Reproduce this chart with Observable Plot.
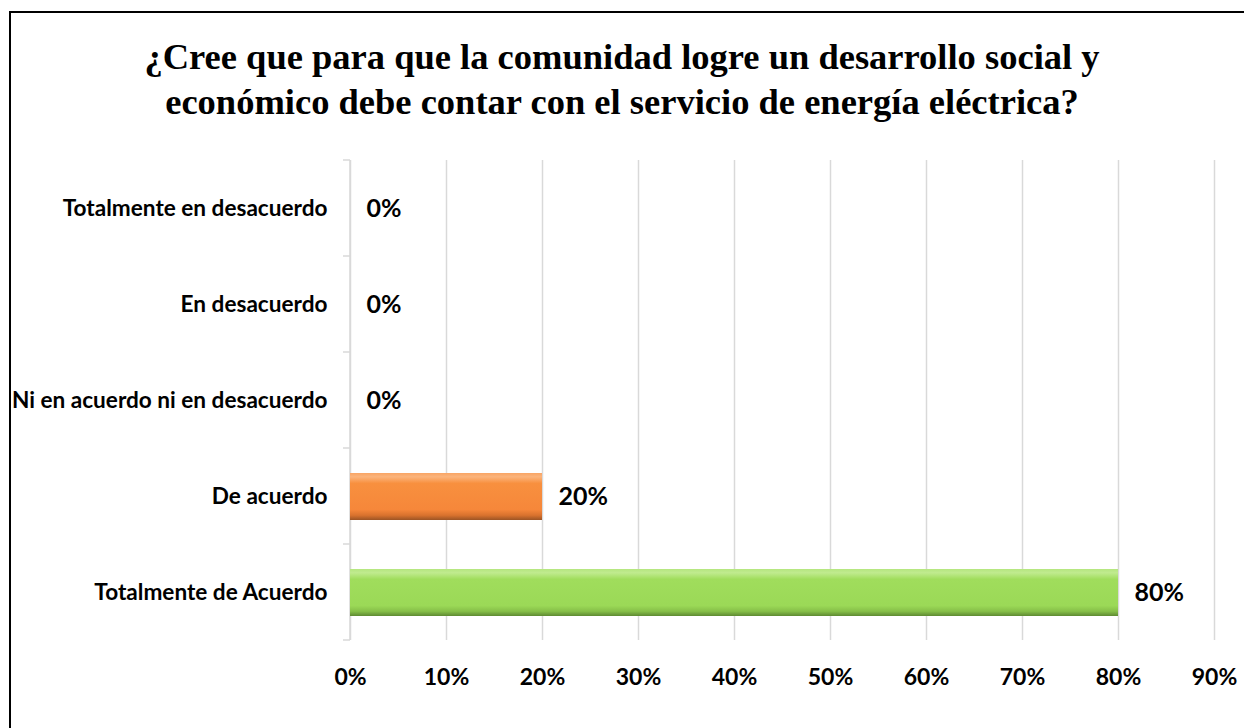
<!DOCTYPE html>
<html>
<head>
<meta charset="utf-8">
<script src="https://cdn.jsdelivr.net/npm/d3@7"></script>
<script src="https://cdn.jsdelivr.net/npm/@observablehq/plot@0.6"></script>
<style>
  html, body { margin: 0; padding: 0; background: #fff; }
  body { width: 1244px; height: 728px; position: relative; overflow: hidden; }
  .edge { position: absolute; background: #000; }
  #edgeTop { left: 9px; top: 11px; width: 1235px; height: 2px; }
  #edgeLeft { left: 9px; top: 11px; width: 2px; height: 717px; }
  #title { position: absolute; top: 34px; left: 0; width: 1244px; text-align: center; font-family: "Liberation Serif", "Times New Roman", serif; font-weight: bold; font-size: 36.5px; line-height: 45px; color: #000; z-index: 2; }
  #chart { position: absolute; left: 0; top: 0; z-index: 1; }
</style>
</head>
<body>
<div class="edge" id="edgeTop"></div>
<div class="edge" id="edgeLeft"></div>
<div id="title">¿Cree que para que la comunidad logre un desarrollo social y<br>económico debe contar con el servicio de energía eléctrica?</div>
<div id="chart"></div>
<script>
const categories = ["Totalmente en desacuerdo", "En desacuerdo", "Ni en acuerdo ni en desacuerdo", "De acuerdo", "Totalmente de Acuerdo"];
const values = [0, 0, 0, 0.20, 0.80];
const fills = ["url(#gOrange)", "url(#gOrange)", "url(#gOrange)", "url(#gOrange)", "url(#gGreen)"];
const xTicks = [0, 0.1, 0.2, 0.3, 0.4, 0.5, 0.6, 0.7, 0.8, 0.9];

const data = categories.map((c, i) => ({category: c, value: values[i], fill: fills[i]}));
const pct = d => Math.round(d * 100) + "%";

function defsMark() {
  const g = d3.create("svg:g");
  const defs = g.append("defs");
  const mk = (id, stops) => {
    const lg = defs.append("linearGradient").attr("id", id).attr("x1", 0).attr("y1", 0).attr("x2", 0).attr("y2", 1);
    stops.forEach(([o, c]) => lg.append("stop").attr("offset", o).attr("stop-color", c));
  };
  mk("gOrange", [[0, "#f9a565"], [0.08, "#fbb47c"], [0.22, "#f8903f"], [0.78, "#f6873a"], [0.9, "#d9722e"], [1, "#9c5424"]]);
  mk("gGreen", [[0, "#b5e67f"], [0.08, "#c0eb8f"], [0.22, "#a0dd5c"], [0.78, "#9bd957"], [0.9, "#86bf48"], [1, "#5e8a32"]]);
  return g.node();
}

function yAxisLine(index, scales, values, dims) {
  const y = scales.y;
  const top = dims.marginTop, bottom = dims.height - dims.marginBottom;
  const bw = (y.bandwidth ? y.bandwidth() : (bottom - top) / categories.length);
  const x0 = scales.x(0);
  const g = d3.create("svg:g").attr("stroke", "#d9d9d9").attr("stroke-width", 1.5).attr("fill", "none");
  g.append("line").attr("x1", x0).attr("x2", x0).attr("y1", top).attr("y2", bottom);
  const bounds = categories.map(c => y(c)).concat([y(categories[categories.length - 1]) + bw]);
  bounds.forEach(b => g.append("line").attr("x1", x0 - 7).attr("x2", x0).attr("y1", b).attr("y2", b));
  return g.node();
}

const plot = Plot.plot({
  width: 1244,
  height: 728,
  marginTop: 160,
  marginBottom: 88,
  marginLeft: 350,
  marginRight: 30,
  style: {background: "transparent", fontFamily: "Lato, 'Open Sans', sans-serif", color: "#000"},
  x: {domain: [0, 0.9]},
  y: {domain: categories, padding: 0},
  color: {type: "identity"},
  marks: [
    defsMark,
    Plot.gridX(xTicks, {stroke: "#d9d9d9", strokeOpacity: 1, strokeWidth: 1.5}),
    yAxisLine,
    Plot.axisX(xTicks, {tickSize: 0, tickPadding: 28, tickFormat: pct, fontSize: 23, fontWeight: "bold", label: null}),
    Plot.axisY({tickSize: 0, tickPadding: 23, fontSize: 22.6, fontWeight: "bold", label: null}),
    Plot.barX(data.filter(d => d.value > 0), {x: "value", y: "category", fill: "fill", insetTop: 25, insetBottom: 24}),
    Plot.ruleX(data.filter(d => d.value > 0), {x: "value", y: "category", stroke: "#3c3c3c", strokeWidth: 3, insetTop: 25, insetBottom: 24}),
    Plot.text(data, {x: "value", y: "category", text: d => pct(d.value), textAnchor: "start", dx: 16, fontSize: 25, fontWeight: "bold", fill: "#000"})
  ]
});
document.getElementById("chart").appendChild(plot);
</script>
</body>
</html>
